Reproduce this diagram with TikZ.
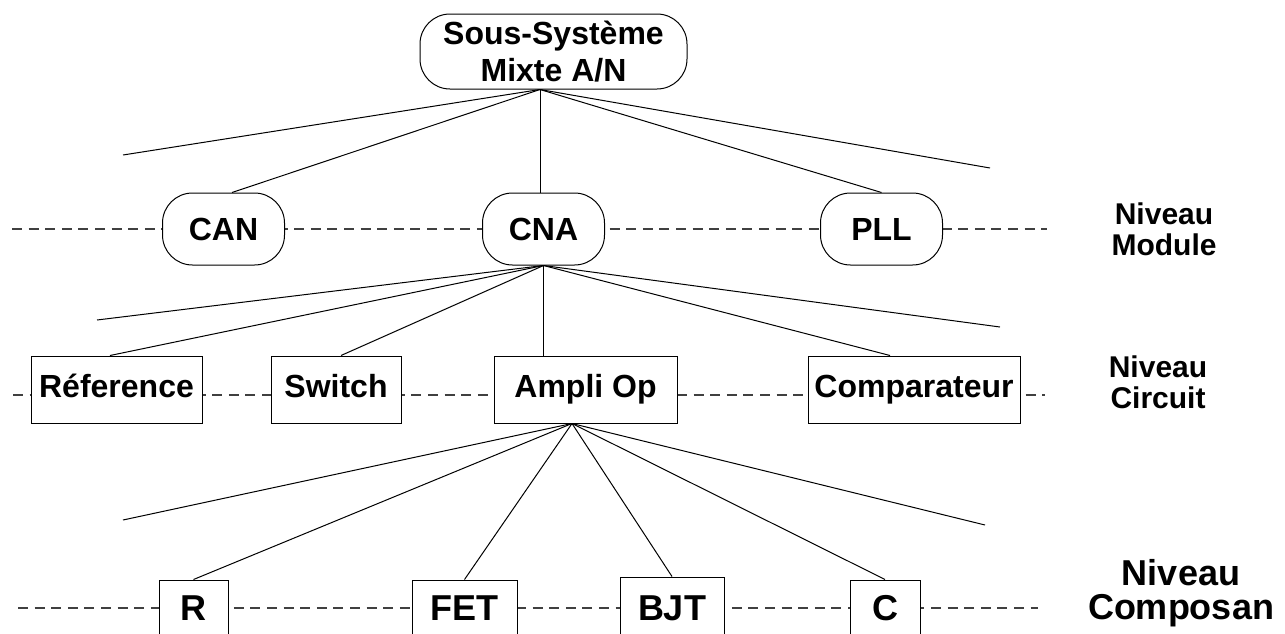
\documentclass[tikz,border=0pt]{standalone}
\usepackage{fontspec}
\setmainfont{Liberation Sans}
\begin{document}
\begin{tikzpicture}[x=0.5pt,y=-0.5pt,
    lvl/.style={draw,line width=0.5pt,fill=white,inner sep=0pt,font=\bfseries\fontsize{16}{18.5}\selectfont},
    modbox/.style={lvl,rounded corners=15pt,minimum width=61pt,minimum height=36pt},
    circbox/.style={lvl,minimum height=33.5pt,text height=11.5pt,text depth=3.5pt},
    compbox/.style={lvl,minimum height=27pt,text height=13pt,text depth=0pt,font=\bfseries\fontsize{18}{21}\selectfont},
    lien/.style={line width=0.5pt},
    niv/.style={line width=0.6pt,black!75,dash pattern=on 5pt off 3.3pt},
    tag/.style={align=center,font=\bfseries\fontsize{15}{15.5}\selectfont}]
  \clip (0,0) rectangle (1285,633);
  \draw[niv] (12,229) -- (1047,229);
  \draw[niv] (13,395) -- (1045,395);
  \draw[niv] (18,608) -- (1038,608);
  \node[modbox,minimum width=133.5pt,minimum height=37.5pt,align=center] (sys) at (553.5,51.5) {Sous-Système\\Mixte A/N};
  \node[modbox] (can) at (223.5,229) {CAN};
  \node[modbox] (cna) at (543.5,229) {CNA};
  \node[modbox] (pll) at (881.5,229) {PLL};
  \node[circbox,minimum width=85.5pt] (ref) at (116.5,389.5) {Réference};
  \node[circbox,minimum width=65pt] (swi) at (336,389.5) {Switch};
  \node[circbox,minimum width=91.5pt] (amp) at (585.5,389.5) {Ampli Op};
  \node[circbox,minimum width=106pt] (cmp) at (914,389.5) {Comparateur};
  \node[compbox,minimum width=34.5pt] (r) at (193.5,607) {R};
  \node[compbox,minimum width=52.5pt] (fet) at (464.5,607) {FET};
  \node[compbox,minimum width=52pt,minimum height=30pt] (bjt) at (672,607) {BJT};
  \node[compbox,minimum width=35pt] (cap) at (885,607) {C};
  \node[tag] (nmod) at (1164,229) {Niveau\\Module};
  \node[tag] (ncir) at (1158,382) {Niveau\\Circuit};
  \node[tag,font=\bfseries\fontsize{18}{17}\selectfont] (ncmp) at (1181,593) {Niveau\\Composan};
  \coordinate (f0) at ([xshift=-6.75pt]sys.south);
  \coordinate (g0) at (123,155);
  \coordinate (d0) at (990,168);
  \draw[lien] (f0) -- (g0);
  \draw[lien] (f0) -- ([xshift=4.25pt]can.north);
  \draw[lien] (f0) -- (f0 |- cna.north);
  \draw[lien] (f0) -- (pll.north);
  \draw[lien] (f0) -- (d0);
  \coordinate (f1) at (cna.south);
  \coordinate (g1) at (97,320);
  \coordinate (d1) at (1000,327);
  \draw[lien] (f1) -- (g1);
  \draw[lien] (f1) -- ([xshift=-3.25pt]ref.north);
  \draw[lien] (f1) -- ([xshift=2.5pt]swi.north);
  \draw[lien] (f1) -- (f1 |- amp.north);
  \draw[lien] (f1) -- ([xshift=-12pt]cmp.north);
  \draw[lien] (f1) -- (d1);
  \coordinate (f2) at ([xshift=-6.75pt]amp.south);
  \coordinate (g2) at (123,520);
  \coordinate (d2) at (985,525);
  \draw[lien] (f2) -- (g2);
  \draw[lien] (f2) -- (r.north);
  \draw[lien] (f2) -- (fet.north);
  \draw[lien] (f2) -- (bjt.north);
  \draw[lien] (f2) -- (cap.north);
  \draw[lien] (f2) -- (d2);
\end{tikzpicture}
\end{document}
